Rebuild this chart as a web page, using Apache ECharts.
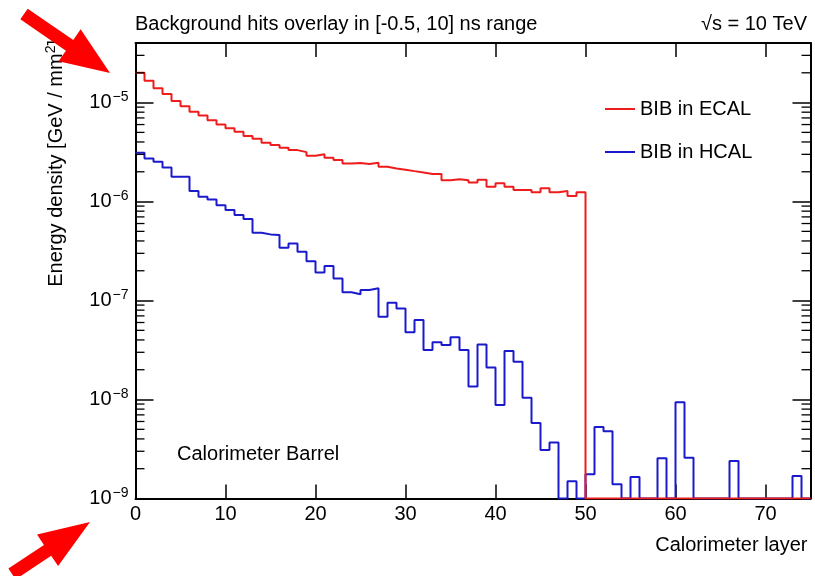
<!DOCTYPE html>
<html>
<head>
<meta charset="utf-8">
<script src="https://cdn.jsdelivr.net/npm/echarts@6/dist/echarts.min.js"></script>
<style>html,body{margin:0;padding:0;background:#fff}#c{width:815px;height:576px}</style>
</head>
<body>
<div id="c"></div>
<script>
// ---- data (bin index = calorimeter layer, bins of width 1 from 0 to 75) ----
const nBins = 75;
const layerMin = 0, layerMax = 75;
const xTickValues = [0, 10, 20, 30, 40, 50, 60, 70];
const yTickExponents = [-9, -8, -7, -6, -5];
const yMin = 1e-9, yMax = 4e-5;

const ecalDensity = [
  2.0e-5, 1.66e-5, 1.40e-5, 1.22e-5, 1.04e-5, 9.2e-6, 8.1e-6, 7.4e-6, 6.65e-6, 6.0e-6,
  5.5e-6, 5.07e-6, 4.59e-6, 4.31e-6, 3.93e-6, 3.72e-6, 3.5e-6, 3.31e-6, 3.16e-6, 2.9e-6,
  3.0e-6, 2.77e-6, 2.63e-6, 2.43e-6, 2.45e-6, 2.4e-6, 2.47e-6, 2.25e-6, 2.16e-6, 2.1e-6,
  2.03e-6, 1.97e-6, 1.9e-6, 1.9e-6, 1.64e-6, 1.68e-6, 1.64e-6, 1.56e-6, 1.66e-6, 1.41e-6,
  1.53e-6, 1.41e-6, 1.31e-6, 1.31e-6, 1.24e-6, 1.36e-6, 1.24e-6, 1.28e-6, 1.14e-6, 1.24e-6,
  0, 0, 0, 0, 0, 0, 0, 0, 0, 0,
  0, 0, 0, 0, 0, 0, 0, 0, 0, 0,
  0, 0, 0, 0, 0
];
const hcalDensity = [
  3.11e-6, 2.73e-6, 2.52e-6, 2.21e-6, 1.78e-6, 1.78e-6, 1.28e-6, 1.12e-6, 1.05e-6, 9.2e-7,
  8.2e-7, 7.3e-7, 6.65e-7, 4.84e-7, 4.66e-7, 4.59e-7, 3.42e-7, 3.78e-7, 3.11e-7, 2.5e-7,
  1.92e-7, 2.23e-7, 1.67e-7, 1.21e-7, 1.16e-7, 1.28e-7, 1.33e-7, 6.87e-8, 9.5e-8, 8.3e-8,
  4.77e-8, 6.35e-8, 3.16e-8, 3.78e-8, 3.56e-8, 4.25e-8, 3.16e-8, 1.35e-8, 3.6e-8, 2.11e-8,
  8.8e-9, 3.09e-8, 2.41e-8, 1.04e-8, 5.8e-9, 3.09e-9, 3.67e-9, 0, 1.49e-9, 0,
  1.76e-9, 5.27e-9, 4.77e-9, 1.39e-9, 0, 1.65e-9, 0, 0, 2.55e-9, 0,
  9.4e-9, 2.58e-9, 0, 0, 0, 0, 2.39e-9, 0, 0, 0,
  0, 0, 0, 1.69e-9, 0
];
const seriesNames = ['BIB in ECAL', 'BIB in HCAL'];

// ---- helpers ----
const FONT = '"Liberation Sans", Arial, Helvetica, sans-serif';
function stepPoints(vals) {
  const pts = [];
  vals.forEach((v, i) => {
    const y = v > yMin ? v : yMin; // empty bins drawn on the axis floor (log scale)
    pts.push([layerMin + i, y], [layerMin + i + 1, y]);
  });
  return pts;
}
const minorTickValues = [];
yTickExponents.forEach(e => {
  for (let k = 2; k <= 9; k++) {
    const v = k * Math.pow(10, e);
    if (v < yMax * 0.999) minorTickValues.push(v);
  }
});
function arrowPoints(tail, tip, shaftW, headW, headL) {
  const dx = tip[0] - tail[0], dy = tip[1] - tail[1];
  const L = Math.hypot(dx, dy), ux = dx / L, uy = dy / L, nx = -uy, ny = ux;
  const bx = tip[0] - ux * headL, by = tip[1] - uy * headL;
  return [
    [tail[0] + nx * shaftW / 2, tail[1] + ny * shaftW / 2],
    [bx + nx * shaftW / 2, by + ny * shaftW / 2],
    [bx + nx * headW / 2, by + ny * headW / 2],
    tip,
    [bx - nx * headW / 2, by - ny * headW / 2],
    [bx - nx * shaftW / 2, by - ny * shaftW / 2],
    [tail[0] - nx * shaftW / 2, tail[1] - ny * shaftW / 2]
  ];
}

const chart = echarts.init(document.getElementById('c'), null, {renderer: 'canvas'});
const axisLineStyle = {color: '#000', width: 2};
const tickStyle = {color: '#000', width: 1.5};
const supRich = {
  b: {fontSize: 20, fontFamily: FONT, color: '#000'},
  s: {fontSize: 14, fontFamily: FONT, color: '#000', padding: [0, 0, 10, 1]}
};
const ecalColor = '#ee1c1c', hcalColor = '#1a1acc';

const option = {
  animation: false,
  backgroundColor: '#fff',
  textStyle: {fontFamily: FONT},
  title: [
    {text: 'Background hits overlay in [-0.5, 10] ns range', left: 135, top: 14, padding: 0,
     textStyle: {fontSize: 20, fontWeight: 'normal', color: '#000', fontFamily: FONT}},
    {text: '√s = 10 TeV', right: 8, top: 14, padding: 0,
     textStyle: {fontSize: 20, fontWeight: 'normal', color: '#000', fontFamily: FONT}},
    {text: 'Calorimeter Barrel', left: 177, top: 444, padding: 0,
     textStyle: {fontSize: 20, fontWeight: 'normal', color: '#000', fontFamily: FONT}}
  ],
  legend: {
    data: [
      {name: seriesNames[0], icon: 'rect', itemStyle: {color: ecalColor}},
      {name: seriesNames[1], icon: 'rect', itemStyle: {color: hcalColor}}
    ],
    orient: 'vertical',
    left: 605, top: 99, padding: 0,
    itemWidth: 30, itemHeight: 2, itemGap: 23,
    textStyle: {fontSize: 20, color: '#000', fontFamily: FONT}
  },
  grid: {left: 135.5, right: 4.5, top: 43, bottom: 77.5, containLabel: false},
  xAxis: [
    {type: 'value', min: layerMin, max: layerMax, interval: 10, position: 'bottom',
     name: 'Calorimeter layer', nameLocation: 'end', nameGap: 0,
     nameTextStyle: {fontSize: 20, color: '#000', fontFamily: FONT, align: 'right', verticalAlign: 'top', padding: [37, 3, 0, 0]},
     axisLine: {show: true, lineStyle: axisLineStyle, onZero: false},
     axisTick: {show: true, inside: true, length: 14, lineStyle: tickStyle},
     axisLabel: {show: true, margin: 6, fontSize: 20, color: '#000', fontFamily: FONT,
       formatter: v => xTickValues.indexOf(v) >= 0 ? String(v) : ''},
     splitLine: {show: false}},
    {type: 'value', min: layerMin, max: layerMax, interval: 10, position: 'top',
     axisLine: {show: true, lineStyle: axisLineStyle, onZero: false},
     axisTick: {show: true, inside: true, length: 14, lineStyle: tickStyle},
     axisLabel: {show: false}, splitLine: {show: false}}
  ],
  yAxis: [
    {type: 'log', logBase: 10, min: yMin, max: yMax, position: 'left',
     axisLine: {show: true, lineStyle: axisLineStyle, onZero: false},
     axisTick: {show: true, inside: true, length: 18, lineStyle: tickStyle},
     axisLabel: {show: true, margin: 7, rich: supRich,
       formatter: v => {
         const e = Math.log10(v), r = Math.round(e);
         if (Math.abs(e - r) > 1e-6 || yTickExponents.indexOf(r) < 0) return '';
         return '{b|10}{s|−' + (-r) + '}';
       }},
     splitLine: {show: false}},
    {type: 'log', logBase: 10, min: yMin, max: yMax, position: 'right',
     axisLine: {show: true, lineStyle: axisLineStyle, onZero: false},
     axisTick: {show: true, inside: true, length: 18, lineStyle: tickStyle},
     axisLabel: {show: false}, splitLine: {show: false}}
  ],
  graphic: [
    {type: 'text', x: 68, y: 40, rotation: Math.PI / 2, z: 10,
     style: {text: 'Energy density [GeV / mm{s|2}]', fontSize: 20, fontFamily: FONT, fill: '#000',
       align: 'right', verticalAlign: 'bottom',
       rich: {s: {fontSize: 14, fontFamily: FONT, fill: '#000', padding: [0, 0, 10, 0]}}}},
    {type: 'polygon', z: 100, shape: {points: arrowPoints([24, 14], [110, 73], 13, 39, 49)}, style: {fill: '#ff0000'}},
    {type: 'polygon', z: 100, shape: {points: arrowPoints([12, 574], [90, 522], 13, 38, 51)}, style: {fill: '#ff0000'}}
  ],
  series: [
    {name: 'BIB in HCAL', type: 'line', xAxisIndex: 0, yAxisIndex: 0, data: stepPoints(hcalDensity),
     showSymbol: false, symbol: 'none', clip: true, z: 3,
     lineStyle: {color: hcalColor, width: 2}, itemStyle: {color: hcalColor}},
    {name: 'BIB in ECAL', type: 'line', xAxisIndex: 0, yAxisIndex: 0, data: stepPoints(ecalDensity),
     showSymbol: false, symbol: 'none', clip: true, z: 4,
     lineStyle: {color: ecalColor, width: 2}, itemStyle: {color: ecalColor}},
    {type: 'custom', name: 'minorTicks', xAxisIndex: 0, yAxisIndex: 0, silent: true, clip: false, z: 5,
     data: minorTickValues.map(v => [layerMin, v]),
     encode: {x: 0, y: 1},
     renderItem: (params, api) => {
       const v = api.value(1);
       const a = api.coord([layerMin, v]);
       const b = api.coord([layerMax, v]);
       return {type: 'group', children: [
         {type: 'line', shape: {x1: a[0], y1: a[1], x2: a[0] + 9, y2: a[1]}, style: {stroke: '#000', lineWidth: 1.3}},
         {type: 'line', shape: {x1: b[0] - 9, y1: b[1], x2: b[0], y2: b[1]}, style: {stroke: '#000', lineWidth: 1.3}}
       ]};
     }}
  ]
};
chart.setOption(option);
</script>
</body>
</html>
